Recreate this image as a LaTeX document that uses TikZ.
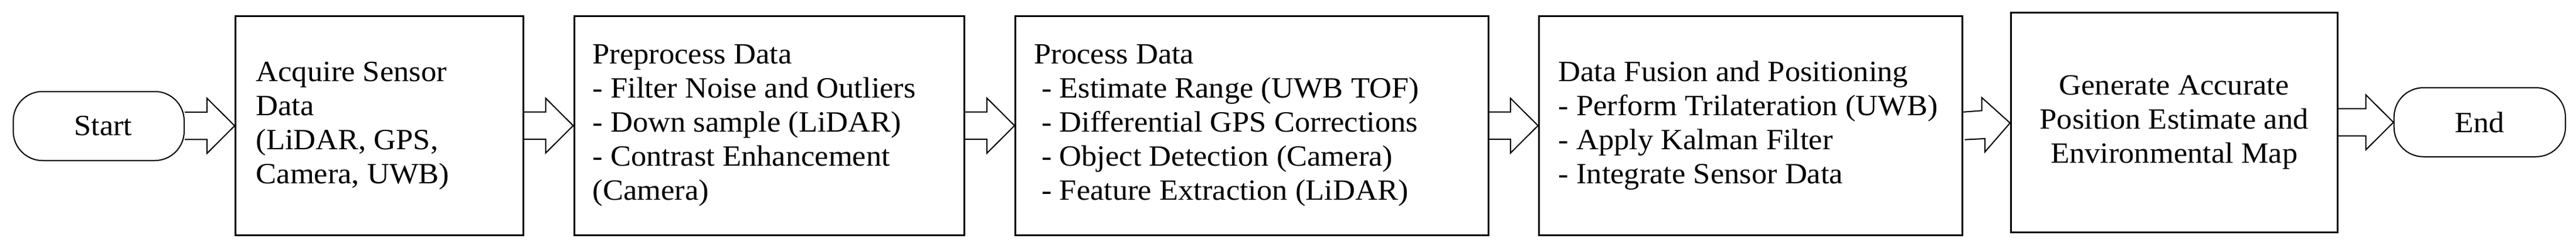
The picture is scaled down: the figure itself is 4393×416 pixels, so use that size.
\documentclass[tikz,border=0pt]{standalone}
\usepackage{fontspec}
\setmainfont{Liberation Serif}[FakeStretch=1.05]
\usetikzlibrary{calc}
\newcommand\fatarrow[2]{%
  \draw[arr] let \p1=(#1.east), \p2=(#2.west), \n1={0.5*(\y1+\y2)} in
    (\x1,\n1+23.3pt) -- (\x2-47pt,\n1+23.3pt) -- (\x2-47pt,\n1+46.7pt) -- (\x2,\n1)
    -- (\x2-47pt,\n1-46.7pt) -- (\x2-47pt,\n1-23.3pt) -- (\x1,\n1-23.3pt);}
\begin{document}
\begin{tikzpicture}[x=1pt,y=1pt,
  txt/.style={font=\fontsize{50}{58}\selectfont},
  stepbox/.style={draw=black, line width=3pt, inner sep=0pt, minimum width=#1, minimum height=372.3pt},
  term/.style={draw=black, line width=2pt, rounded corners=50pt, minimum width=291.5pt, minimum height=117.5pt, inner sep=0pt, txt},
  body/.style={txt, align=left, inner sep=0pt, anchor=west},
  arr/.style={draw=black, line width=2pt, line join=miter}]
\useasboundingbox[fill=white] (0,0) rectangle (4393,416);

\node[term] (start) at (168.3,201.5) {\hspace*{15pt}Start};

\node[stepbox=490.6pt] (b1) at (647,202.15) {};
\node[body] (t1) at ($(b1.west)+(36.3,0)$) {Acquire Sensor\\Data\\(LiDAR, GPS,\\Camera, UWB)};

\node[stepbox=665pt] (b2) at (1311.5,202.15) {};
\node[body] (t2) at ($(b2.west)+(33,0)$) {Preprocess Data\\- Filter Noise and Outliers\\- Down sample (LiDAR)\\- Contrast Enhancement\\(Camera)};

\node[stepbox=806.6pt] (b3) at (2135,202.15) {};
\node[body] (t3) at ($(b3.west)+(33.3,0)$) {Process Data\\\hspace*{0.25em}- Estimate Range (UWB TOF)\\\hspace*{0.25em}- Differential GPS Corrections\\\hspace*{0.25em}- Object Detection (Camera)\\\hspace*{0.25em}- Feature Extraction (LiDAR)};

\node[stepbox=722.4pt] (b4) at (2985.5,202.15) {};
\node[body] (t4) at ($(b4.west)+(34.7,0)$) {Data Fusion and Positioning\\- Perform Trilateration (UWB)\\- Apply Kalman Filter\\- Integrate Sensor Data};

\node[stepbox=556.7pt, minimum height=373.3pt, txt, align=center] (b5) at (3707.65,207.65) {Generate Accurate\\Position Estimate and\\Environmental Map};

\node[term, minimum width=292.3pt] (end) at (4228.8,208) {End};

\fatarrow{start}{b1}
\fatarrow{b1}{b2}
\fatarrow{b2}{b3}
\fatarrow{b3}{b4}
\draw[arr] let \p1=(b4.east), \p2=(b5.west) in
  (\x1,225.3) -- (\x2-48.3pt,227.7) -- (\x2-48.3pt,250) -- (\x2,206.7)
  -- (\x2-42.6pt,157.7) -- (\x2-42.6pt,180) -- (\x1+2.3pt,178.3);
\fatarrow{b5}{end}
\end{tikzpicture}
\end{document}
